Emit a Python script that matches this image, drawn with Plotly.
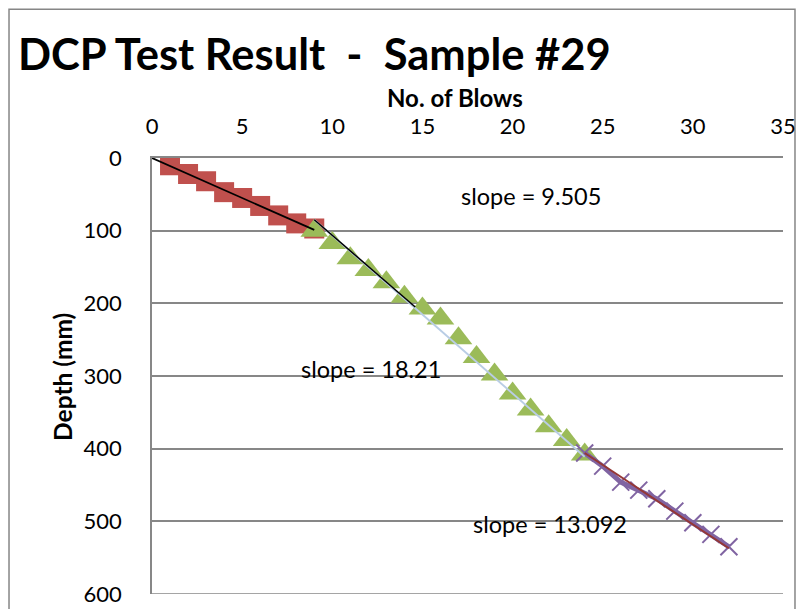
import plotly.graph_objects as go

# data
blows_1 = [1, 2, 3, 4, 5, 6, 7, 8, 9]
depth_1 = [10, 22, 32, 47, 55, 66, 79, 90, 97]

blows_2 = [9, 10, 11, 12, 13, 14, 15, 16, 17, 18, 19, 20, 21, 22, 23, 24]
depth_2 = [100, 117, 138, 154, 171, 191, 207, 221, 248, 274, 298, 324, 346, 369, 388, 408]

blows_3 = [24, 25, 26, 27, 28, 29, 30, 31, 32]
depth_3 = [406, 424, 446, 457, 469, 486, 502, 518, 535]

# trend line end points
trend_1_x = [0, 9]
trend_1_y = [0, 99]
trend_2_x = [9, 24]
trend_2_y = [85, 411]
trend_2b_x = [9, 14.6]
trend_2b_y = [85, 205]
trend_3_x = [24, 32]
trend_3_y = [406, 537]

slope_labels = ["slope = 9.505", "slope = 18.21", "slope = 13.092"]
slope_x = [21.0, 12.15, 22.1]
slope_y = [52, 291, 504]

FONT = "Lato, Open Sans, sans-serif"
GRID = "#878787"

fig = go.Figure()

fig.add_trace(go.Scatter(x=blows_1, y=depth_1, mode="markers",
                         marker=dict(symbol="square", size=20, color="#C0504D",
                                     line=dict(width=0))))
fig.add_trace(go.Scatter(x=blows_2, y=depth_2, mode="markers",
                         marker=dict(symbol="triangle-up", size=24, color="#9BBB59",
                                     line=dict(width=0))))
fig.add_trace(go.Scatter(x=blows_3, y=depth_3, mode="lines+markers",
                         line=dict(color="#8064A2", width=5),
                         marker=dict(symbol="x-thin", size=17,
                                     line=dict(width=2, color="#8064A2"))))

fig.add_trace(go.Scatter(x=trend_1_x, y=trend_1_y, mode="lines",
                         line=dict(color="black", width=1.8)))
fig.add_trace(go.Scatter(x=trend_2_x, y=trend_2_y, mode="lines",
                         line=dict(color="#B9CDE5", width=2)))
fig.add_trace(go.Scatter(x=trend_2b_x, y=trend_2b_y, mode="lines",
                         line=dict(color="black", width=1.5)))
fig.add_trace(go.Scatter(x=trend_3_x, y=trend_3_y, mode="lines",
                         line=dict(color="#953735", width=2)))

for txt, sx, sy in zip(slope_labels, slope_x, slope_y):
    fig.add_annotation(x=sx, y=sy, text=txt, showarrow=False,
                       font=dict(size=23.5, color="black", family=FONT),
                       xanchor="center", yanchor="middle")

fig.add_annotation(xref="paper", yref="paper", x=0.48, y=1.138,
                   xanchor="center", yanchor="middle",
                   text="<b>No. of Blows</b>", showarrow=False,
                   font=dict(size=24, color="black", family=FONT))
fig.add_annotation(xref="paper", yref="paper", x=-0.141, y=0.498,
                   xanchor="center", yanchor="middle",
                   text="<b>Depth (mm)</b>", textangle=-90, showarrow=False,
                   font=dict(size=24.5, color="black", family=FONT))

# bottom grid line at 600 and outer chart frame
fig.add_shape(type="line", xref="paper", yref="y", x0=0, x1=1, y0=600, y1=600,
              line=dict(color=GRID, width=1.5), layer="below")
fig.add_shape(type="rect", xref="paper", yref="paper",
              x0=-0.2266, x1=1.019, y0=-0.2, y1=1.341,
              line=dict(color="#868686", width=1.5), layer="below")

fig.update_layout(
    width=805, height=609,
    margin=dict(l=144, r=30, t=150, b=23),
    paper_bgcolor="white", plot_bgcolor="white",
    showlegend=False,
    title=dict(text="<b>DCP Test Result  -  Sample #29</b>",
               xref="container", yref="container",
               x=10 / 805, xanchor="left", y=1 - 47 / 609, yanchor="middle",
               font=dict(size=43.5, color="black", family=FONT)),
    xaxis=dict(range=[0, 35], side="top", dtick=5, showgrid=False,
               zeroline=False, showline=True, linecolor=GRID, linewidth=1.5,
               ticks="", ticklabelstandoff=13, automargin=False,
               tickfont=dict(size=22, color="black", family=FONT)),
    yaxis=dict(range=[600, 0], dtick=100, showgrid=True, gridcolor=GRID,
               gridwidth=1.5, zeroline=False, showline=True, linecolor=GRID,
               linewidth=1.5, ticks="", ticklabelstandoff=24, automargin=False,
               tickfont=dict(size=22, color="black", family=FONT)),
)

fig.write_html("out.html")
